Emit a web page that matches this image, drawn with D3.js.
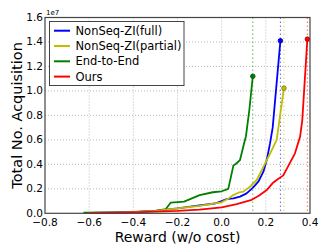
<!DOCTYPE html>
<html><head><meta charset="utf-8">
<script src="https://cdn.jsdelivr.net/npm/d3@7"></script>
<style>body{margin:0;background:#fff}svg{display:block;font-family:"DejaVu Sans",sans-serif}</style>
</head><body><svg id="c" width="332" height="251"></svg>
<script>
const seriesNames = ["NonSeq-ZI(full)", "NonSeq-ZI(partial)", "End-to-End", "Ours"];
const seriesColors = ["#0000ff", "#bfbf00", "#008000", "#ff0000"];
const fullX = [-0.6,-0.4,-0.3,-0.2,-0.1,-0.03,0.0,0.02,0.053,0.083,0.113,0.143,0.166,0.189,0.204,0.219,0.231,0.266];
const fullY = [0.003,0.01,0.02,0.04,0.065,0.08,0.1,0.115,0.122,0.136,0.163,0.212,0.258,0.34,0.435,0.571,0.7,1.41];
const partialX = [-0.6,-0.4,-0.3,-0.2,-0.1,-0.05,0.0,0.03,0.053,0.075,0.098,0.128,0.159,0.189,0.227,0.249,0.282];
const partialY = [0.003,0.01,0.02,0.04,0.06,0.075,0.09,0.12,0.149,0.168,0.177,0.217,0.272,0.38,0.517,0.6,1.023];
const e2eX = [-0.626,-0.5,-0.4,-0.3,-0.253,-0.23,-0.17,-0.1,-0.04,0.0,0.03,0.053,0.065,0.083,0.1,0.11,0.125,0.141];
const e2eY = [0.005,0.008,0.012,0.02,0.035,0.088,0.095,0.148,0.172,0.18,0.2,0.39,0.405,0.435,0.56,0.63,0.84,1.12];
const oursX = [-0.6,-0.4,-0.2,-0.1,0.0,0.068,0.136,0.17,0.204,0.23,0.249,0.279,0.332,0.355,0.365,0.388];
const oursY = [0.002,0.008,0.02,0.03,0.048,0.075,0.11,0.145,0.19,0.245,0.272,0.31,0.49,0.625,0.76,1.423];
const xTicks = [-0.8,-0.6,-0.4,-0.2,0.0,0.2,0.4];
const yTicks = [0.0,0.2,0.4,0.6,0.8,1.0,1.2,1.4,1.6];

const seriesX = [fullX, partialX, e2eX, oursX];
const seriesY = [fullY, partialY, e2eY, oursY];

const L = 45, R = 310, T = 17.5, B = 213.3;
const svg = d3.select("#c");
const x = d3.scaleLinear().domain([-0.8, 0.4]).range([L, R]);
const y = d3.scaleLinear().domain([0, 1.6]).range([B, T]);
const fmt = d => d3.format(".1f")(d).replace("-", "\u2212");

// grid
svg.append("g").selectAll("line").data(xTicks.slice(1, -1)).join("line")
  .attr("x1", d => x(d)).attr("x2", d => x(d)).attr("y1", T).attr("y2", B)
  .attr("stroke", "#aaa").attr("stroke-width", 0.8).attr("stroke-dasharray", "1,2");
svg.append("g").selectAll("line").data(yTicks.slice(1, -1)).join("line")
  .attr("y1", d => y(d)).attr("y2", d => y(d)).attr("x1", L).attr("x2", R)
  .attr("stroke", "#aaa").attr("stroke-width", 0.8).attr("stroke-dasharray", "1,2");

// vertical dotted lines at end of each series
seriesX.forEach((xs, i) => {
  const xe = xs[xs.length - 1];
  svg.append("line").attr("x1", x(xe)).attr("x2", x(xe)).attr("y1", T).attr("y2", B)
    .attr("stroke", seriesColors[i]).attr("stroke-width", 1).attr("stroke-dasharray", "1.5,2.5").attr("opacity", 0.6);
});

// lines
const line = d3.line().x(d => x(d[0])).y(d => y(d[1]));
const drawOrder = [2, 0, 1, 3];
drawOrder.forEach(i => {
  const pts = seriesX[i].map((v, k) => [v, seriesY[i][k]]);
  svg.append("path").datum(pts).attr("d", line).attr("fill", "none")
    .attr("stroke", seriesColors[i]).attr("stroke-width", 1.8).attr("stroke-linejoin", "round");
  const last = pts[pts.length - 1];
  svg.append("circle").attr("cx", x(last[0])).attr("cy", y(last[1])).attr("r", 2.3)
    .attr("fill", seriesColors[i]).attr("stroke", d3.color(seriesColors[i]).darker(1.2)).attr("stroke-width", 0.8);
});

// axes frame
svg.append("rect").attr("x", L).attr("y", T).attr("width", R - L).attr("height", B - T)
  .attr("fill", "none").attr("stroke", "#444").attr("stroke-width", 1.2);

// tick labels
svg.append("g").selectAll("text").data(xTicks).join("text")
  .attr("x", d => x(d)).attr("y", B + 12.7).attr("text-anchor", "middle")
  .attr("font-size", 10.5).attr("fill", "#000").text(fmt);
svg.append("g").selectAll("text").data(yTicks).join("text")
  .attr("x", L - 2).attr("y", d => y(d) + 3.5).attr("text-anchor", "end")
  .attr("font-size", 10.5).attr("fill", "#000").text(fmt);
svg.append("text").attr("x", L + 1).attr("y", T - 3).attr("font-size", 7).text("1e7");

// axis labels
svg.append("text").attr("x", (L + R) / 2).attr("y", 242).attr("text-anchor", "middle")
  .attr("font-size", 14).text("Reward (w/o cost)");
svg.append("text").attr("transform", `translate(22,${(T + B) / 2}) rotate(-90)`)
  .attr("text-anchor", "middle").attr("font-size", 14.5).text("Total No. Acquisition");

// legend
const lg = svg.append("g");
lg.append("rect").attr("x", 49.5).attr("y", 21.5).attr("width", 134.5).attr("height", 64)
  .attr("fill", "#fff").attr("stroke", "#444").attr("stroke-width", 1);
seriesNames.forEach((n, i) => {
  const yy = 30.7 + i * 15.3;
  lg.append("line").attr("x1", 54).attr("x2", 70).attr("y1", yy).attr("y2", yy)
    .attr("stroke", seriesColors[i]).attr("stroke-width", 2);
  lg.append("text").attr("x", 75.5).attr("y", yy + 4).attr("font-size", 11.5).text(n);
});
</script></body></html>
